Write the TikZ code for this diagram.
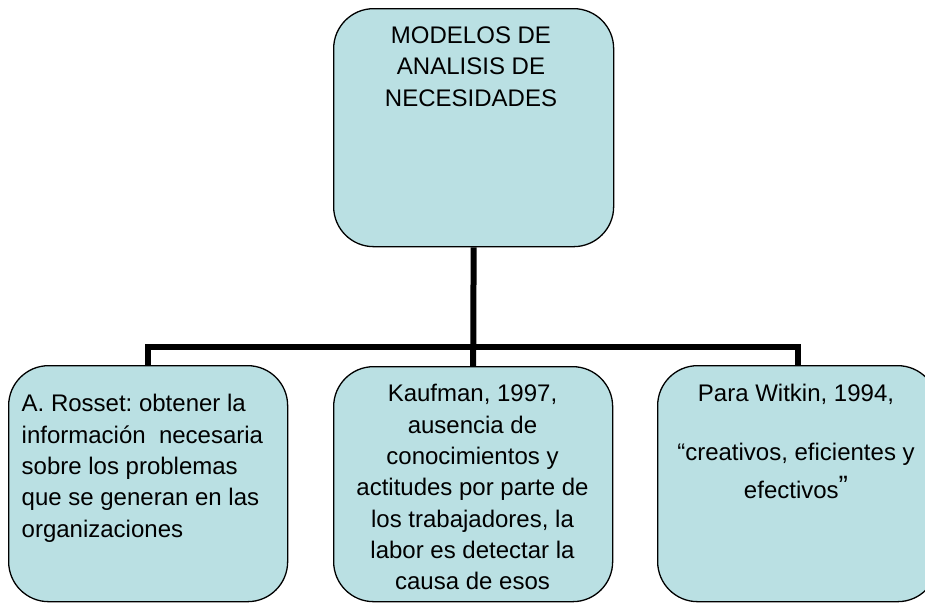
\documentclass[tikz,border=0pt]{standalone}
\usepackage{fontspec}
\setmainfont{Liberation Sans}
\frenchspacing
\definecolor{boxfill}{RGB}{186,224,227}
\begin{document}
\begin{tikzpicture}[x=1pt,y=-1pt,
  box/.style={draw=black,line width=1.3pt,fill=boxfill,rounded corners=40pt,
    minimum width=280pt,inner sep=0pt,anchor=north west},
  txt/.style={inner sep=0pt,font=\fontsize{24}{31.3}\selectfont},
  conn/.style={draw=black,line width=6pt}]
\useasboundingbox (0,0) rectangle (925,603);
\node[box,minimum height=238pt] (top) at (333,8) {};
\node[box,minimum width=279pt,minimum height=236pt] (left) at (8,365) {};
\node[box,minimum width=279pt,minimum height=235pt] (mid) at (333,366) {};
\node[box,minimum height=236pt] (right) at (657,365) {};
\coordinate (hub) at (472,347);
\draw[conn] (top.south) -- (mid.north);
\draw[conn] (left.north) |- (hub) -| (right.north);
\node[txt,align=center,anchor=north] (ttop) at (471,26.6)
  {MODELOS DE\\ANALISIS DE\\NECESIDADES};
\node[txt,align=left,anchor=north west] (tleft) at (21.5,394.3)
  {A. Rosset: obtener la\\informaci\'on\ \ necesaria\\sobre los problemas\\que se generan en las\\organizaciones};
\node[txt,align=center,anchor=north] (tmid) at (472.5,384.3)
  {Kaufman, 1997,\\ausencia de\\conocimientos y\\actitudes por parte de\\los trabajadores, la\\labor es detectar la\\causa de esos};
\node[txt,align=center,anchor=north] (tright) at (796,384.3)
  {Para Witkin, 1994,\\[27pt]“creativos, eficientes y\\[6.7pt]efectivos\raisebox{2.5pt}{\fontsize{28}{28}\selectfont ”}};
\end{tikzpicture}
\end{document}
